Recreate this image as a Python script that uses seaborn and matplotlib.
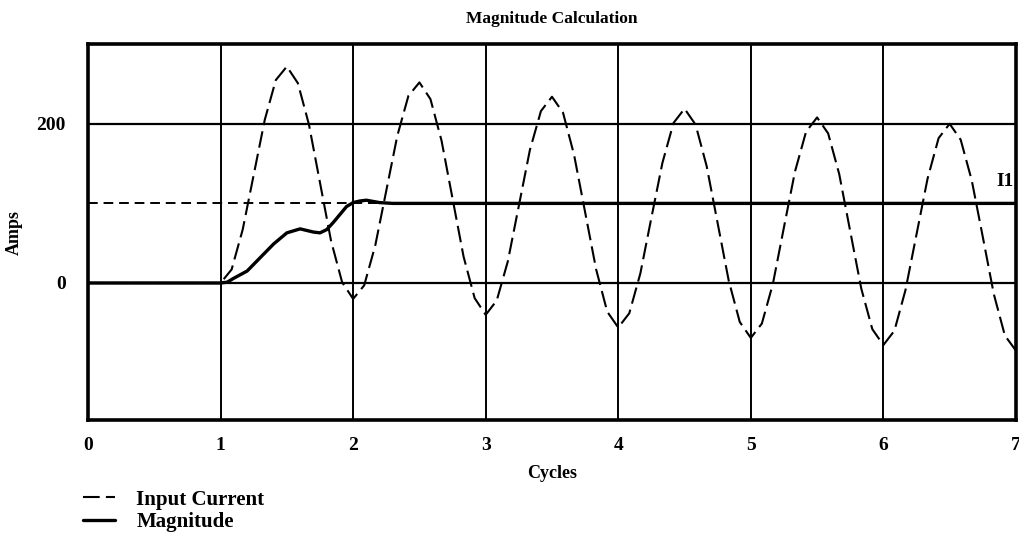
import matplotlib
matplotlib.use("Agg")
import matplotlib.pyplot as plt
import numpy as np
import pandas as pd
import seaborn as sns

# Input current (12 samples per cycle from t=1)
t_in = [0.0, 1.0] + [round(1 + k / 12, 4) for k in range(1, 73)]
i_in = [0, 0,
        17, 67, 136, 205, 255, 272, 251, 199, 126, 53, 1, -20,
        -3, 47, 116, 185, 235, 252, 231, 179, 106, 33, -19, -40,
        -22, 27, 97, 167, 216, 234, 214, 161, 89, 17, -36, -56,
        -38, 12, 82, 151, 201, 219, 199, 147, 75, 3, -49, -69,
        -51, -1, 70, 140, 190, 208, 188, 137, 65, -7, -58, -78,
        -60, -9, 61, 131, 182, 200, 180, 129, 58, -14, -66, -85]

# Magnitude estimate
t_mag = [0.0, 1.0, 1.05, 1.1, 1.2, 1.3, 1.4, 1.5, 1.6, 1.7, 1.75, 1.8, 1.85,
         1.9, 1.95, 2.0, 2.05, 2.1, 2.2, 2.3, 3.0, 4.0, 5.0, 6.0, 7.0]
mag = [0, 0, 1, 6, 15, 32, 49, 63, 68, 64, 63, 67, 76,
       86, 96, 101, 103, 104, 101, 100, 100, 100, 100, 100, 100]

i1_level = 100
x_ticks = [0, 1, 2, 3, 4, 5, 6, 7]
y_ticks = [0, 200]

sns.set_style("white")
plt.rcParams["font.family"] = ["Liberation Serif", "DejaVu Serif"]
plt.rcParams["font.weight"] = "bold"
plt.rcParams["text.color"] = "black"
plt.rcParams["xtick.color"] = "black"
plt.rcParams["ytick.color"] = "black"
plt.rcParams["axes.labelcolor"] = "black"

df_in = pd.DataFrame({"t": t_in, "i": i_in})
df_mag = pd.DataFrame({"t": t_mag, "m": mag})

fig = plt.figure(figsize=(10.2, 5.46), dpi=100)
ax = fig.add_axes([0.0863, 0.231, 0.9097, 0.688])

# grid lines
for xv in x_ticks[1:-1]:
    ax.axvline(xv, color="black", lw=1.4, zorder=1)
for yv in y_ticks:
    ax.axhline(yv, color="black", lw=1.6, zorder=1)
ax.axhline(i1_level, color="black", lw=1.4, ls=(0, (5, 3)), zorder=1)

sns.lineplot(data=df_in, x="t", y="i", ax=ax, color="black", lw=1.5,
             ls=(0, (8, 3)), estimator=None, sort=False,
             label="Input Current", zorder=3)
sns.lineplot(data=df_mag, x="t", y="m", ax=ax, color="black", lw=2.4,
             estimator=None, sort=False, label="Magnitude", zorder=4)

ax.text(6.98, 127, "I1", ha="right", va="center", fontsize=14, fontweight="bold")

ax.set_xlim(0, 7)
ax.set_ylim(-172, 300)
ax.set_xticks(x_ticks)
ax.set_yticks(y_ticks)
ax.tick_params(length=0, labelsize=14)
ax.tick_params(axis="x", pad=12)
ax.tick_params(axis="y", pad=16)
for lab in ax.get_xticklabels() + ax.get_yticklabels():
    lab.set_fontweight("bold")
for s in ax.spines.values():
    s.set_linewidth(2.6)
    s.set_color("black")

ax.set_title("Magnitude Calculation", fontsize=12.5, fontweight="bold", pad=15)
ax.set_xlabel("Cycles", fontsize=13, fontweight="bold", labelpad=8)
ax.set_ylabel("Amps", fontsize=13, fontweight="bold", labelpad=10)

ax.legend(loc="upper left", bbox_to_anchor=(-0.0054, -0.186), frameon=False,
          handlelength=1.55, handletextpad=1.0, labelspacing=0.12,
          borderaxespad=0, borderpad=0,
          prop={"weight": "bold", "size": 15})

fig.savefig("out.png", dpi=100)
